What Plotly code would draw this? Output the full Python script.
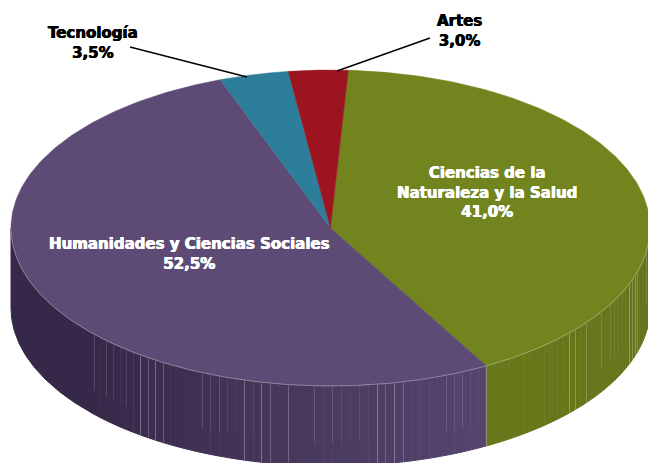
import numpy as np
import plotly.graph_objects as go

categories = ["Ciencias de la<br>Naturaleza y la Salud", "Humanidades y Ciencias Sociales", "Tecnología", "Artes"]
values = [41.0, 52.5, 3.5, 3.0]

top_colors = ["#72841E", "#5D4B75", "#2C7E9A", "#9C141F"]
CX, CY, RX, RY, DEPTH = 330.5, 228, 319.5, 158, 80
START = 3.2
SOLID_FROM = 228


def px(t):
    return CX + RX * np.sin(np.radians(t))


def py(t):
    return CY - RY * np.cos(np.radians(t))


def mix(a, b, f):
    f = min(max(f, 0), 1)
    return "rgb(%d,%d,%d)" % tuple(a[i] + (b[i] - a[i]) * f for i in range(3))


edges = [START]
for v in values:
    edges.append(edges[-1] + v * 3.6)

fig = go.Figure()


def poly(x, y, color, w=1.0):
    fig.add_trace(go.Scatter(x=x, y=y, mode="lines", fill="toself", fillcolor=color,
                             line=dict(color=color, width=w), hoverinfo="skip", showlegend=False))


# side wall
STEP = 1.6
g_dark, g_light = (104, 121, 26), (100, 116, 28)
p_dark, p_light = (54, 40, 72), (86, 70, 110)
stripe_levels = [0.34, 0.0, 0.16, 0.05, 0.24, 0.0, 0.1]
stripes = {lvl: ([], []) for lvl in stripe_levels}

# solid dark part of the purple wall
arc = np.linspace(SOLID_FROM, 270, 80)
poly(list(px(arc)) + list(px(arc[::-1])), list(py(arc)) + list(py(arc[::-1]) + DEPTH), mix(p_dark, p_dark, 0))

for seg, (a, b) in enumerate([(90, edges[1]), (edges[1], SOLID_FROM)]):
    ts = np.arange(a, b + STEP, STEP)
    ts[-1] = b
    for i in range(len(ts) - 1):
        t0, t1 = ts[i], ts[i + 1]
        arc = np.linspace(t0, t1, 3)
        x = list(px(arc)) + list(px(arc[::-1]))
        y = list(py(arc)) + list(py(arc[::-1]) + DEPTH)
        if seg == 0:
            col = mix(g_light, g_dark, (t0 - 90) / (edges[1] - 90))
        else:
            col = mix(p_light, p_dark, (t0 - edges[1]) / (SOLID_FROM - edges[1]))
        poly(x, y, col)
    for i in range(len(ts) - 1):
        t0 = ts[i]
        if (seg == 0 and t0 < 134) or (seg == 1 and t0 > edges[1] + 1):
            lvl = stripe_levels[(i * 3 + i // 4) % len(stripe_levels)]
            if lvl == 0.0:
                continue
            frac = 1.0 if lvl > 0.2 else 0.7
            sx_pos = np.floor(px(t0)) + 0.5
            stripes[lvl][0].extend([sx_pos, sx_pos, None])
            stripes[lvl][1].extend([py(t0) + 1, py(t0) + DEPTH * frac, None])

for lvl, (sx, sy) in stripes.items():
    if sx:
        fig.add_trace(go.Scatter(x=sx, y=sy, mode="lines", line=dict(color=f"rgba(225,220,235,{lvl})", width=1),
                                 hoverinfo="skip", showlegend=False))

# divider between wall colours
fig.add_trace(go.Scatter(x=[px(edges[1])] * 2, y=[py(edges[1]), py(edges[1]) + DEPTH], mode="lines",
                         line=dict(color="rgba(200,200,190,0.5)", width=1), hoverinfo="skip", showlegend=False))

# top faces
for i in range(len(values)):
    arc = np.linspace(edges[i], edges[i + 1], 200)
    poly([CX] + list(px(arc)) + [CX], [CY] + list(py(arc)) + [CY], top_colors[i], 0.5)

# rim highlight
rim = np.linspace(90, 270, 300)
fig.add_trace(go.Scatter(x=px(rim), y=py(rim), mode="lines", line=dict(color="rgba(255,255,255,0.4)", width=0.8),
                         hoverinfo="skip", showlegend=False))

# leader lines
fig.add_trace(go.Scatter(x=[130, 247], y=[47, 77], mode="lines", line=dict(color="black", width=1.4),
                         hoverinfo="skip", showlegend=False))
fig.add_trace(go.Scatter(x=[337, 430], y=[71, 38], mode="lines", line=dict(color="black", width=1.4),
                         hoverinfo="skip", showlegend=False))

# labels
label_pos = [(487, 192, "white"), (189, 254, "white"), (93, 43, "black"), (459, 31, "black")]
for cat, v, (lx, ly, c) in zip(categories, values, label_pos):
    fig.add_annotation(x=lx, y=ly, text=f"<b>{cat}<br>{v:.1f}%</b>".replace(".", ","), showarrow=False,
                       align="center", xanchor="center", yanchor="middle",
                       font=dict(family="DejaVu Sans", size=15, color=c,
                                 shadow=f"0.4px 0 0 {c}, -0.4px 0 0 {c}"))

fig.update_layout(
    width=648, height=463, margin=dict(l=0, r=0, t=0, b=0), paper_bgcolor="white", plot_bgcolor="white",
    xaxis=dict(range=[0, 648], visible=False, fixedrange=True),
    yaxis=dict(range=[463, 0], visible=False, fixedrange=True),
    showlegend=False,
)
fig.write_html("out.html", config={"displayModeBar": False},
               post_script="document.body.style.margin='0';document.body.style.overflow='hidden';")
